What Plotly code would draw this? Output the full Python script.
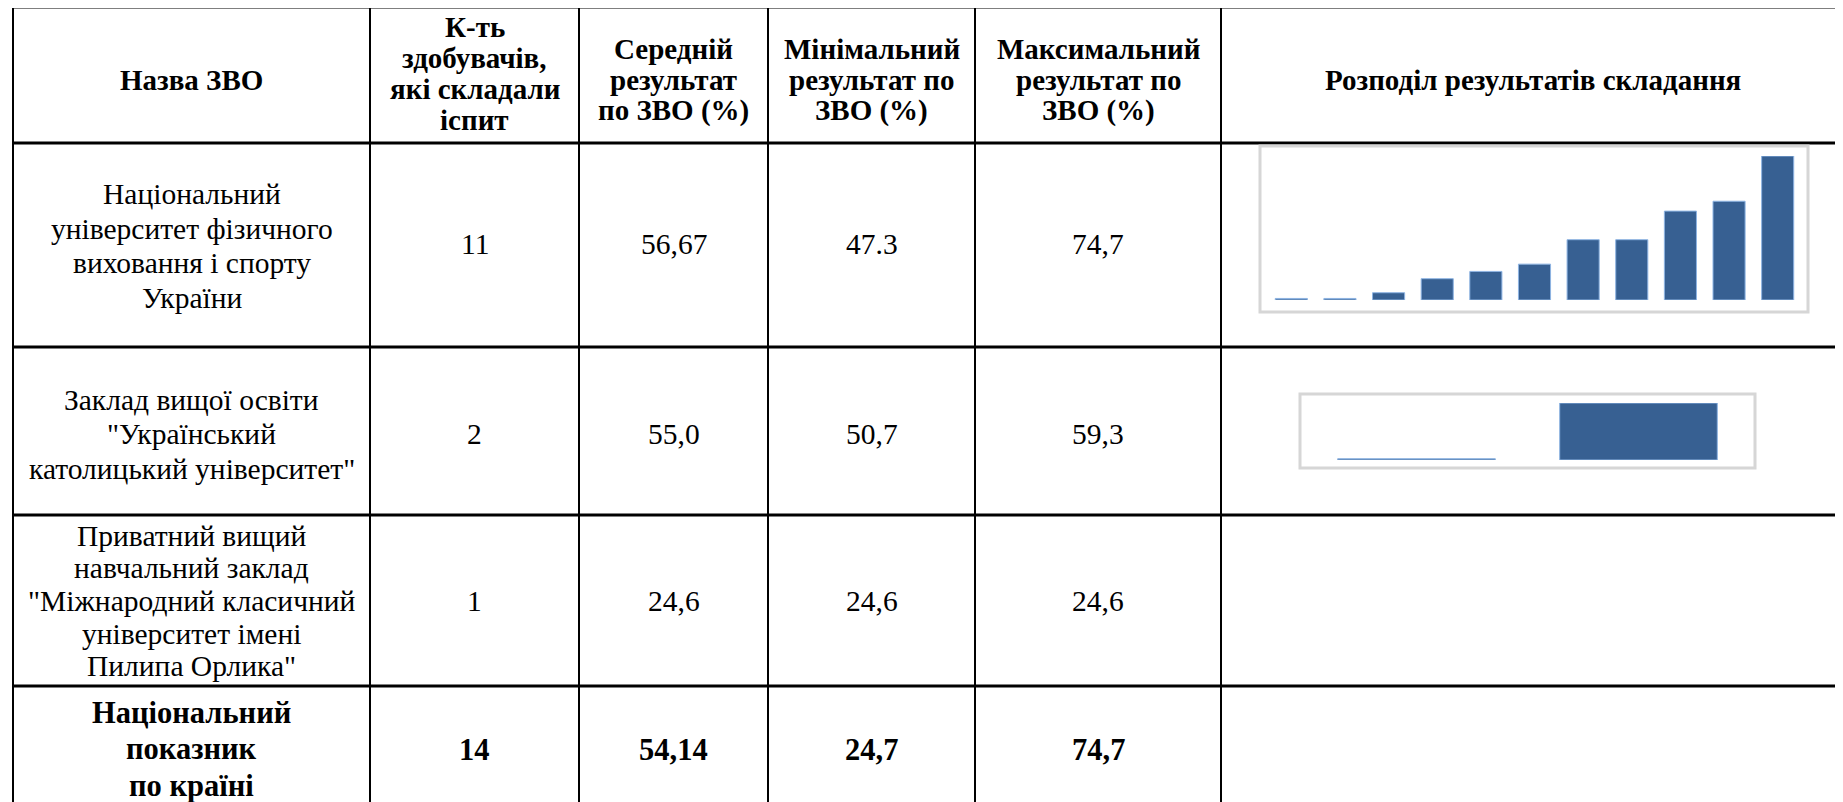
import plotly.graph_objects as go

W, H = 1843, 802

# ---------------- data ----------------
header_name = ["Назва ЗВО"]
header_count = ["К-ть", "здобувачів,", "які складали", "іспит"]
header_mean = ["Середній", "результат", "по ЗВО (%)"]
header_min = ["Мінімальний", "результат по", "ЗВО (%)"]
header_max = ["Максимальний", "результат по", "ЗВО (%)"]
header_dist = ["Розподіл результатів складання"]

uni_names = [
    ["Національний", "університет фізичного", "виховання і спорту", "України"],
    ["Заклад вищої освіти", "\"Український", "католицький університет\""],
    ["Приватний вищий", "навчальний заклад", "\"Міжнародний класичний", "університет імені", "Пилипа Орлика\""],
]
counts = ["11", "2", "1"]
means = ["56,67", "55,0", "24,6"]
mins = ["47.3", "50,7", "24,6"]
maxs = ["74,7", "59,3", "24,6"]

national_name = ["Національний", "показник", "по країні"]
national_count = "14"
national_mean = "54,14"
national_min = "24,7"
national_max = "74,7"

# distribution of individual results (sorted), per university
dist1_results = [47.3, 47.3, 48.4, 51.1, 52.5, 53.9, 58.6, 58.6, 64.1, 66.0, 74.7]
dist2_results = [50.7, 59.3]

# ---------------- layout helpers ----------------
OFF = 8  # default page margin of the html body


def px(x):
    return (x - OFF) / W


def py(y):
    return 1 - (y - OFF) / H


col_x = [13, 370, 579, 768, 975, 1221]
row_y = [7, 143, 347, 515, 686]
col_centers = [(col_x[i] + col_x[i + 1]) / 2 for i in range(5)] + [1533]

FONT = "Liberation Serif, Times New Roman, serif"
TXT = "#000000"
BAR = "#376092"
BAR_EDGE = "#8eb4e3"
BOX = "#d6d6d6"

fig = go.Figure()
annotations = []
shapes = []


def add_lines(lines, cx, cy, spacing, size, bold=False):
    n = len(lines)
    for i, t in enumerate(lines):
        y = cy + (i - (n - 1) / 2) * spacing
        annotations.append(dict(
            x=px(cx), y=py(y), xref="paper", yref="paper",
            text=f"<b>{t}</b>" if bold else t, showarrow=False,
            xanchor="center", yanchor="middle",
            font=dict(family=FONT, size=size, color=TXT),
        ))


# header
HS = 29
add_lines(header_name, col_centers[0], 80, 31, HS, True)
add_lines(header_count, col_centers[1], 73.5, 31, HS, True)
add_lines(header_mean, col_centers[2], 80, 31, HS, True)
add_lines(header_min, col_centers[3], 80, 31, HS, True)
add_lines(header_max, col_centers[4], 80, 31, HS, True)
add_lines(header_dist, col_centers[5], 80, 31, HS, True)

# body rows
BS = 29.5
row_centers = [246, 434, 601]
num_centers = [244, 434, 601]
spacings = [34.5, 34.5, 32.6]
for i in range(3):
    cy = row_centers[i]
    ny = num_centers[i]
    add_lines(uni_names[i], col_centers[0], cy, spacings[i], BS)
    add_lines([counts[i]], col_centers[1], ny, spacings[i], BS)
    add_lines([means[i]], col_centers[2], ny, spacings[i], BS)
    add_lines([mins[i]], col_centers[3], ny, spacings[i], BS)
    add_lines([maxs[i]], col_centers[4], ny, spacings[i], BS)

# national row
NS = 30.5
add_lines(national_name, col_centers[0], 749, 36.5, NS, True)
add_lines([national_count], col_centers[1], 750, 36.5, NS, True)
add_lines([national_mean], col_centers[2], 750, 36.5, NS, True)
add_lines([national_min], col_centers[3], 750, 36.5, NS, True)
add_lines([national_max], col_centers[4], 750, 36.5, NS, True)

# table grid
for y in row_y:
    shapes.append(dict(type="line", xref="paper", yref="paper",
                       x0=px(col_x[0] - 1), x1=1, y0=py(y), y1=py(y),
                       line=dict(color="black", width=3)))
for x in col_x:
    shapes.append(dict(type="line", xref="paper", yref="paper",
                       x0=px(x), x1=px(x), y0=py(row_y[0] - 1), y1=0,
                       line=dict(color="black", width=2)))

# chart boxes
shapes.append(dict(type="rect", xref="paper", yref="paper",
                   x0=px(1260), x1=px(1808), y0=py(312), y1=py(146),
                   line=dict(color=BOX, width=3), fillcolor="rgba(0,0,0,0)"))
shapes.append(dict(type="rect", xref="paper", yref="paper",
                   x0=px(1300), x1=px(1755), y0=py(468), y1=py(394),
                   line=dict(color=BOX, width=3), fillcolor="rgba(0,0,0,0)"))

# mini bar charts (bars rise from the axis floor)
lo1 = min(dist1_results) - 0.3
lo2 = min(dist2_results) - 0.2
fig.add_trace(go.Bar(
    x=list(range(len(dist1_results))), y=[v - lo1 for v in dist1_results],
    base=lo1, width=0.66,
    marker=dict(color=BAR, line=dict(color=BAR_EDGE, width=1)),
    xaxis="x", yaxis="y", hoverinfo="skip", showlegend=False,
))
fig.add_trace(go.Bar(
    x=list(range(len(dist2_results))), y=[v - lo2 for v in dist2_results],
    base=lo2, width=0.71,
    marker=dict(color=BAR, line=dict(color=BAR_EDGE, width=1)),
    xaxis="x2", yaxis="y2", hoverinfo="skip", showlegend=False,
))

ax_common = dict(visible=False, showgrid=False, zeroline=False, fixedrange=True)
fig.update_layout(
    width=W, height=H,
    margin=dict(l=0, r=0, t=0, b=0),
    font=dict(family=FONT, color=TXT),
    paper_bgcolor="white", plot_bgcolor="rgba(0,0,0,0)",
    showlegend=False,
    xaxis=dict(domain=[px(1267), px(1802)], range=[-0.5, len(dist1_results) - 0.5], **ax_common),
    yaxis=dict(domain=[py(300), py(156)], range=[lo1, max(dist1_results)], **ax_common),
    xaxis2=dict(domain=[px(1305.5), px(1749.5)], range=[-0.5, len(dist2_results) - 0.5],
                anchor="y2", **ax_common),
    yaxis2=dict(domain=[py(460), py(403)], range=[lo2, max(dist2_results)],
                anchor="x2", **ax_common),
    annotations=annotations,
    shapes=shapes,
)

fig.write_html("out.html")
